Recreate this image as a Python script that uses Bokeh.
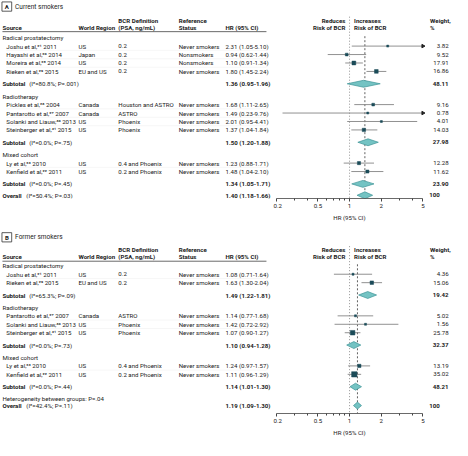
import math
from bokeh.plotting import figure
from bokeh.layouts import column, row
from bokeh.models import (Range1d, FixedTicker, ColumnDataSource, CustomJSTickFormatter)
from bokeh.core.properties import value
from bokeh.embed import file_html
from bokeh.resources import INLINE

# ---------------- data: panel A (current smokers) ----------------
groups = ["Radical prostatectomy", "Radiotherapy", "Mixed cohort"]

a_group_of = [0, 0, 0, 0, 1, 1, 1, 1, 2, 2]
a_sources = ["Joshu et al,\u00b2\u00b9 2011", "Hayashi et al,\u00b2\u2070 2014",
             "Moreira et al,\u00b2\u2075 2014", "Rieken et al,\u00b2\u2079 2015",
             "Pickles et al,\u00b2\u2076 2004", "Pantarotto et al,\u00b2\u2077 2007",
             "Solanki and Liauw,\u00b3\u2070 2013", "Steinberger et al,\u00b3\u00b9 2015",
             "Ly et al,\u00b2\u00b3 2010", "Kenfield et al,\u00b2\u00b2 2011"]
a_regions = ["US", "Japan", "US", "EU and US", "Canada", "Canada", "US", "US", "US", "US"]
a_bcr = ["0.2", "0.2", "0.2", "0.2", "Houston and ASTRO", "ASTRO", "Phoenix", "Phoenix",
         "0.4 and Phoenix", "0.2 and Phoenix"]
a_status = ["Never smokers", "Nonsmokers", "Nonsmokers", "Never smokers", "Never smokers",
            "Never smokers", "Never smokers", "Never smokers", "Never smokers", "Never smokers"]
a_hr = [2.31, 0.94, 1.10, 1.80, 1.68, 1.49, 2.01, 1.37, 1.23, 1.48]
a_lo = [1.05, 0.62, 0.91, 1.45, 1.11, 0.23, 0.95, 1.04, 0.88, 1.04]
a_hi = [5.10, 1.44, 1.34, 2.24, 2.65, 9.76, 4.41, 1.84, 1.71, 2.10]
a_weight = [3.82, 9.52, 17.91, 16.86, 9.16, 0.78, 4.01, 14.03, 12.28, 11.62]
a_sub_i2 = [80.8, 0.0, 0.0]
a_sub_p = [".001", ".75", ".45"]
a_sub_hr = [1.36, 1.50, 1.34]
a_sub_lo = [0.95, 1.20, 1.05]
a_sub_hi = [1.96, 1.88, 1.71]
a_sub_weight = [48.11, 27.98, 23.90]
a_overall = {"i2": 50.4, "p": ".03", "hr": 1.40, "lo": 1.18, "hi": 1.66, "weight": "100"}

# ---------------- data: panel B (former smokers) ----------------
b_group_of = [0, 0, 1, 1, 1, 2, 2]
b_sources = ["Joshu et al,\u00b2\u00b9 2011", "Rieken et al,\u00b2\u2079 2015",
             "Pantarotto et al,\u00b2\u2077 2007", "Solanki and Liauw,\u00b3\u2070 2013",
             "Steinberger et al,\u00b3\u00b9 2015",
             "Ly et al,\u00b2\u00b3 2010", "Kenfield et al,\u00b2\u00b2 2011"]
b_regions = ["US", "EU and US", "Canada", "US", "US", "US", "US"]
b_bcr = ["0.2", "0.2", "ASTRO", "Phoenix", "Phoenix", "0.4 and Phoenix", "0.2 and Phoenix"]
b_status = ["Never smokers"] * 7
b_hr = [1.08, 1.63, 1.14, 1.42, 1.07, 1.24, 1.11]
b_lo = [0.71, 1.30, 0.77, 0.72, 0.90, 0.97, 0.96]
b_hi = [1.64, 2.04, 1.68, 2.92, 1.27, 1.57, 1.29]
b_weight = [4.36, 15.06, 5.02, 1.56, 25.78, 13.19, 35.02]
b_sub_i2 = [65.3, 0.0, 0.0]
b_sub_p = [".09", ".73", ".44"]
b_sub_hr = [1.49, 1.10, 1.14]
b_sub_lo = [1.22, 0.94, 1.01]
b_sub_hi = [1.81, 1.28, 1.30]
b_sub_weight = [19.42, 32.37, 48.21]
b_overall = {"i2": 42.4, "p": ".11", "hr": 1.19, "lo": 1.09, "hi": 1.30, "weight": "100"}
b_het_p = ".04"

header_cols = [("Source", None), ("World Region", None), ("BCR Definition", "(PSA, ng/mL)"),
               ("Reference", "Status"), ("HR (95% CI)", None)]
axis_ticks = [0.2, 0.5, 1, 2, 5]
axis_minor = [0.3, 0.4, 0.6, 0.7, 0.8, 0.9, 3, 4]
axis_title = "HR (95% CI)"

# ---------------- style / geometry (reference-pixel units) ----------------
FONT = "Roboto"
FS = "6.1px"
TXT = "#1a1a1a"
SQ = "#1b4b58"
DIA_FILL = "#74c3c3"
DIA_LINE = "#3e9497"
CI_COL = "#858585"

TOTAL_W = 452
X_LO, X_HI = 2.0, 466.0
SX = TOTAL_W / (X_HI - X_LO)
SV = 0.9645
X_ONE = 360.3      # where HR = 1 sits
PPD = 107.8        # pixels per decade of HR
AX_MIN, AX_MAX = 0.2, 5.0
BOTTOM_BORDER = 24
FRAME_A, FRAME_B = 198, 190

W_LEFT = 273
W_FOREST = 152
W_RIGHT = TOTAL_W - W_LEFT - W_FOREST
FOREST_L = X_LO + W_LEFT / SX
FOREST_R = FOREST_L + W_FOREST / SX

COL_SRC, COL_IND, COL_REG, COL_BCR, COL_REF, COL_HR = 4, 8, 82, 123, 185, 233
RULE_END = 275
COL_RED, COL_INC, COL_WT_L, COL_WT_R, COL_WT_100 = 356, 365, 443, 462, 453

STEP_HEAD, STEP_STUDY, STEP_SUB, STEP_NEXT = 8.8, 8.75, 12.8, 12.8
STEP_OVERALL, STEP_HET, STEP_HET_OVR = 11.8, 12.0, 7.6
HALF_DIA = 3.6


def ref_to_hr(x):
    return 10 ** ((x - X_ONE) / PPD)


def ci_text(h, l, u):
    return f"{h:.2f} ({l:.2f}-{u:.2f})"


def make_fig(width, frame_h, x_range, y_range, log=False):
    p = figure(frame_width=width, frame_height=frame_h, x_range=x_range, y_range=y_range,
               x_axis_type="log" if log else None, y_axis_type=None,
               toolbar_location=None, output_backend="svg",
               min_border=0, min_border_bottom=BOTTOM_BORDER)
    p.outline_line_color = None
    p.background_fill_color = "white"
    p.border_fill_color = "white"
    return p


def add_texts(figs, entries, bold=False, align="left", size=FS):
    buckets = {"L": [], "F": [], "R": []}
    for (x, y, t) in entries:
        if x < FOREST_L:
            buckets["L"].append((x, y, t))
        elif x < FOREST_R:
            buckets["F"].append((ref_to_hr(x), y, t))
        else:
            buckets["R"].append((x, y, t))
    for key, items in buckets.items():
        if not items:
            continue
        src = ColumnDataSource(dict(x=[e[0] for e in items], y=[e[1] for e in items],
                                    text=[e[2] for e in items]))
        figs[key].text(x="x", y="y", text="text", source=src, text_font=value(FONT),
                       text_font_size=value(size),
                       text_font_style="bold" if bold else "normal",
                       text_align=align, text_baseline="middle", text_color=TXT)


def build_panel(letter, title, anchors, frame_h, group_of, sources, regions, bcr, status,
                hr, lo, hi, weight, sub_i2, sub_p, sub_hr, sub_lo, sub_hi, sub_weight,
                overall, het_p=None):
    axis_y = anchors["axis"]
    yr = lambda: Range1d(axis_y, axis_y - frame_h / SV)
    left = make_fig(W_LEFT, frame_h, Range1d(X_LO, FOREST_L), yr())
    forest = make_fig(W_FOREST, frame_h, Range1d(ref_to_hr(FOREST_L), ref_to_hr(FOREST_R)),
                      yr(), log=True)
    right = make_fig(W_RIGHT, frame_h, Range1d(FOREST_R, X_HI), yr())
    figs = {"L": left, "F": forest, "R": right}

    # ---- row layout
    n = len(sources)
    y = anchors["first"]
    head_y, study_y, sub_y = [], [None] * n, []
    for g in range(len(groups)):
        if g:
            y = sub_y[-1] + STEP_NEXT
        head_y.append(y)
        idx = [i for i in range(n) if group_of[i] == g]
        for k, i in enumerate(idx):
            y += STEP_HEAD if k == 0 else STEP_STUDY
            study_y[i] = y
        y += STEP_SUB
        sub_y.append(y)
    het_y = None
    if het_p is not None:
        het_y = y + STEP_HET
        ovr_y = het_y + STEP_HET_OVR
    else:
        ovr_y = y + STEP_OVERALL

    # ---- faint row separators within groups
    sx0, sx1, sy = [], [], []
    for i in range(n - 1):
        if group_of[i] == group_of[i + 1]:
            sx0.append(COL_IND); sx1.append(RULE_END)
            sy.append((study_y[i] + study_y[i + 1]) / 2)
    left.segment(x0=sx0, x1=sx1, y0=sy, y1=sy, line_color="#ededed", line_width=0.5)

    # ---- title box & header rule
    ty = anchors["title"]
    left.quad(left=[3.5], right=[13.5], top=[ty - 4.8], bottom=[ty + 4.8],
              fill_color=None, line_color="#333333", line_width=0.8)
    add_texts(figs, [(8.5, ty, letter)], bold=True, align="center")
    add_texts(figs, [(17, ty, title)], size="6.5px")
    left.segment(x0=[COL_SRC], x1=[RULE_END], y0=[anchors["rule"]], y1=[anchors["rule"]],
                 line_color="#444444", line_width=0.8)

    # ---- reference lines (HR = 1 and overall estimate)
    forest.segment(x0=[1.0], x1=[1.0], y0=[anchors["h1"] - 3.5], y1=[axis_y],
                   line_color="#777777", line_width=0.8, line_dash="1 2")
    forest.segment(x0=[overall["hr"]], x1=[overall["hr"]], y0=[anchors["first"] - 1.5],
                   y1=[axis_y], line_color="#3a3a3a", line_width=0.8, line_dash="2 2")

    # ---- headers
    hb, hbr = [], []
    cols = [COL_SRC, COL_REG, COL_BCR, COL_REF, COL_HR]
    for (l1, l2), cx in zip(header_cols, cols):
        if l2 is None:
            hb.append((cx, anchors["h2"], l1))
        else:
            hb.append((cx, anchors["h1"], l1)); hb.append((cx, anchors["h2"], l2))
    hb += [(COL_INC, anchors["h1"], "Increases"), (COL_INC, anchors["h2"], "Risk of BCR"),
           (COL_WT_L, anchors["h1"], "Weight,"), (COL_WT_L, anchors["h2"], "%")]
    hbr += [(COL_RED, anchors["h1"], "Reduces"), (COL_RED, anchors["h2"], "Risk of BCR")]

    # ---- body text
    nl, nr, bl, br = [], [], [], []
    for g in range(len(groups)):
        nl.append((COL_SRC, head_y[g], groups[g]))
        bl.append((COL_SRC, sub_y[g], "Subtotal"))
        nl.append((COL_SRC + 27.5, sub_y[g], f"(I\u00b2={sub_i2[g]:.1f}%; P={sub_p[g]})"))
        bl.append((COL_HR, sub_y[g], ci_text(sub_hr[g], sub_lo[g], sub_hi[g])))
        br.append((COL_WT_R, sub_y[g], f"{sub_weight[g]:.2f}"))
    for i in range(n):
        yy = study_y[i]
        nl += [(COL_IND, yy, sources[i]), (COL_REG, yy, regions[i]), (COL_BCR, yy, bcr[i]),
               (COL_REF, yy, status[i]), (COL_HR, yy, ci_text(hr[i], lo[i], hi[i]))]
        nr.append((COL_WT_R, yy, f"{weight[i]:.2f}"))
    if het_y is not None:
        nl.append((COL_SRC, het_y, f"Heterogeneity between groups: P={het_p}"))
    bl.append((COL_SRC, ovr_y, "Overall"))
    nl.append((COL_SRC + 24.5, ovr_y, f"(I\u00b2={overall['i2']:.1f}%; P={overall['p']})"))
    bl.append((COL_HR, ovr_y, ci_text(overall["hr"], overall["lo"], overall["hi"])))
    br.append((COL_WT_100, ovr_y, overall["weight"]))

    add_texts(figs, hb + bl, bold=True)
    add_texts(figs, hbr + br, bold=True, align="right")
    add_texts(figs, nl)
    add_texts(figs, nr, align="right")

    # ---- study CIs, arrows, squares
    cx0 = [max(l, AX_MIN) for l in lo]
    cx1 = [min(u, AX_MAX) for u in hi]
    forest.segment(x0=cx0, x1=cx1, y0=study_y, y1=study_y, line_color=CI_COL, line_width=0.9)
    arr = [i for i in range(n) if hi[i] > AX_MAX]
    if arr:
        forest.scatter(x=[AX_MAX] * len(arr), y=[study_y[i] for i in arr], marker="triangle",
                       angle=-math.pi / 2, size=3.5, fill_color="#222222",
                       line_color="#222222")
    forest.scatter(x=hr, y=study_y, marker="square",
                   size=[max(2.0, 0.9 * math.sqrt(w)) for w in weight],
                   fill_color=SQ, line_color=SQ, line_width=0.5)

    # ---- diamonds (subtotals and overall)
    dxs, dys = [], []
    for (h, l, u, yy) in list(zip(sub_hr, sub_lo, sub_hi, sub_y)) + \
            [(overall["hr"], overall["lo"], overall["hi"], ovr_y)]:
        dxs.append([l, h, u, h])
        dys.append([yy, yy - HALF_DIA, yy, yy + HALF_DIA])
    forest.patches(xs=dxs, ys=dys, fill_color=DIA_FILL, line_color=DIA_LINE, line_width=0.7)

    # ---- log axis, line limited to 0.2..5
    forest.xgrid.visible = False
    ax = forest.xaxis[0]
    ax.bounds = (AX_MIN, AX_MAX)
    ax.ticker = FixedTicker(ticks=axis_ticks, minor_ticks=axis_minor)
    ax.formatter = CustomJSTickFormatter(code="return tick.toString();")
    ax.axis_label = axis_title
    ax.axis_line_color = "#444444"
    ax.axis_line_width = 0.8
    ax.major_tick_line_color = "#444444"
    ax.minor_tick_line_color = "#444444"
    ax.major_tick_in = 0
    ax.major_tick_out = 3
    ax.minor_tick_in = 0
    ax.minor_tick_out = 2
    ax.major_label_standoff = 2
    ax.axis_label_standoff = 3
    ax.major_label_text_font = FONT
    ax.major_label_text_font_size = FS
    ax.major_label_text_color = TXT
    ax.axis_label_text_font = FONT
    ax.axis_label_text_font_size = FS
    ax.axis_label_text_font_style = "normal"
    ax.axis_label_text_color = TXT
    return row(left, forest, right, spacing=0)


anchors_a = {"title": 10.3, "h1": 24.3, "h2": 32.3, "rule": 36.3, "first": 42.5, "axis": 209.3}
anchors_b = {"title": 249.0, "h1": 261.7, "h2": 269.3, "rule": 273.8, "first": 278.5, "axis": 431.7}

pa = build_panel("A", "Current smokers", anchors_a, FRAME_A, a_group_of, a_sources, a_regions,
                 a_bcr, a_status, a_hr, a_lo, a_hi, a_weight, a_sub_i2, a_sub_p, a_sub_hr,
                 a_sub_lo, a_sub_hi, a_sub_weight, a_overall)
pb = build_panel("B", "Former smokers", anchors_b, FRAME_B, b_group_of, b_sources, b_regions,
                 b_bcr, b_status, b_hr, b_lo, b_hi, b_weight, b_sub_i2, b_sub_p, b_sub_hr,
                 b_sub_lo, b_sub_hi, b_sub_weight, b_overall, het_p=b_het_p)

layout = column(pa, pb, spacing=0)
open("out.html", "w").write(file_html(layout, INLINE))
